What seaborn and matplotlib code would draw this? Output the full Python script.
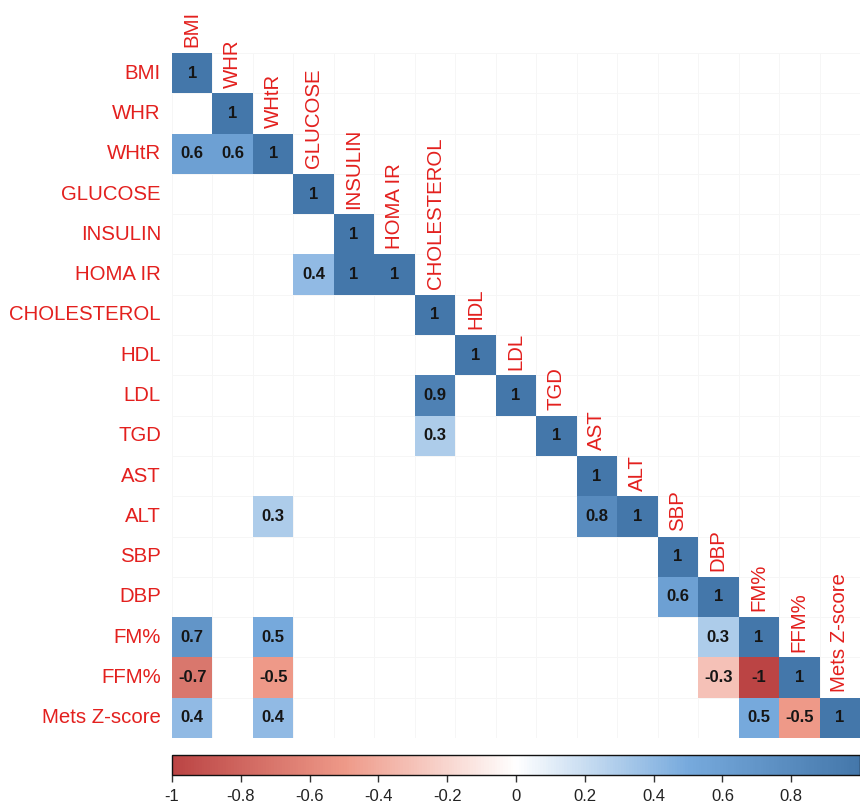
import numpy as np
import pandas as pd
import seaborn as sns
import matplotlib.pyplot as plt
from matplotlib.colors import LinearSegmentedColormap, ListedColormap

sns.set_style("white")
plt.rcParams["font.family"] = ["Liberation Sans", "DejaVu Sans"]

# Variables of the correlation matrix (rows and columns share the order)
variables = ["BMI", "WHR", "WHtR", "GLUCOSE", "INSULIN", "HOMA IR",
             "CHOLESTEROL", "HDL", "LDL", "TGD", "AST", "ALT", "SBP",
             "DBP", "FM%", "FFM%", "Mets Z-score"]

# Significant correlations below the diagonal
pair_row = ["WHtR", "WHtR", "HOMA IR", "HOMA IR", "LDL", "TGD", "ALT", "ALT",
            "DBP", "FM%", "FM%", "FM%", "FFM%", "FFM%", "FFM%", "FFM%",
            "Mets Z-score", "Mets Z-score", "Mets Z-score", "Mets Z-score"]
pair_col = ["BMI", "WHR", "GLUCOSE", "INSULIN", "CHOLESTEROL", "CHOLESTEROL",
            "WHtR", "AST", "SBP", "BMI", "WHtR", "DBP", "BMI", "WHtR", "DBP",
            "FM%", "BMI", "WHtR", "FM%", "FFM%"]
pair_r = [0.6, 0.6, 0.4, 1, 0.9, 0.3, 0.3, 0.8, 0.6, 0.7, 0.5, 0.3,
          -0.7, -0.5, -0.3, -1, 0.4, 0.4, 0.5, -0.5]

colorbar_ticks = [-1, -0.8, -0.6, -0.4, -0.2, 0, 0.2, 0.4, 0.6, 0.8]

n = len(variables)
corr = pd.DataFrame(np.nan, index=variables, columns=variables)
for v in variables:
    corr.loc[v, v] = 1.0
for r, c, val in zip(pair_row, pair_col, pair_r):
    corr.loc[r, c] = val

labels = corr.map(lambda v: "" if np.isnan(v) else f"{v:g}")

upper = np.triu(np.ones((n, n), dtype=bool), k=1)
base = pd.DataFrame(np.where(upper, np.nan, 0.0), index=variables, columns=variables)

cmap = LinearSegmentedColormap.from_list(
    "corr", ["#BB4444", "#EE9988", "#FFFFFF", "#77AADD", "#4477AA"])
label_red = "#E3201E"
label_size = 14.7

fig = plt.figure(figsize=(8.6, 8.1), dpi=100)
ax = fig.add_axes([0.2, 0.0889, 0.8, 0.8457])
cax = fig.add_axes([0.2, 0.0432, 0.8, 0.0247])

# Blank lower-triangle cells with faint borders
sns.heatmap(base, mask=upper, cmap=ListedColormap(["#FFFFFF"]), cbar=False,
            linewidths=0.6, linecolor="#F6F6F6", ax=ax, square=False,
            xticklabels=False, yticklabels=True)

# Coloured, annotated correlations
sns.heatmap(corr, mask=corr.isna(), cmap=cmap, vmin=-1, vmax=1,
            annot=labels.values, fmt="",
            annot_kws={"fontsize": 12, "fontweight": "bold", "color": "#151515"},
            ax=ax, cbar=True, cbar_ax=cax,
            cbar_kws={"orientation": "horizontal", "ticks": colorbar_ticks},
            xticklabels=False, yticklabels=variables)

ax.set_xlabel("")
ax.set_ylabel("")
ax.tick_params(axis="y", length=0, pad=8)
for t in ax.get_yticklabels():
    t.set_color(label_red)
    t.set_fontsize(label_size)
    t.set_rotation(0)

# Column names along the diagonal
for j, name in enumerate(variables):
    ax.text(j + 0.5, j - 0.14, name, rotation=90, ha="center", va="bottom",
            color=label_red, fontsize=label_size)

for s in ax.spines.values():
    s.set_visible(False)

cax.set_xticks(colorbar_ticks)
cax.set_xticklabels([f"{t:g}" for t in colorbar_ticks])
cax.tick_params(axis="x", length=5, width=1, color="#333333", labelsize=12,
                pad=5, labelcolor="#222222")
cbar = ax.collections[-1].colorbar
cbar.outline.set_visible(True)
cbar.outline.set_edgecolor("#111111")
cbar.outline.set_linewidth(1.0)

fig.savefig("out.png", dpi=100)
